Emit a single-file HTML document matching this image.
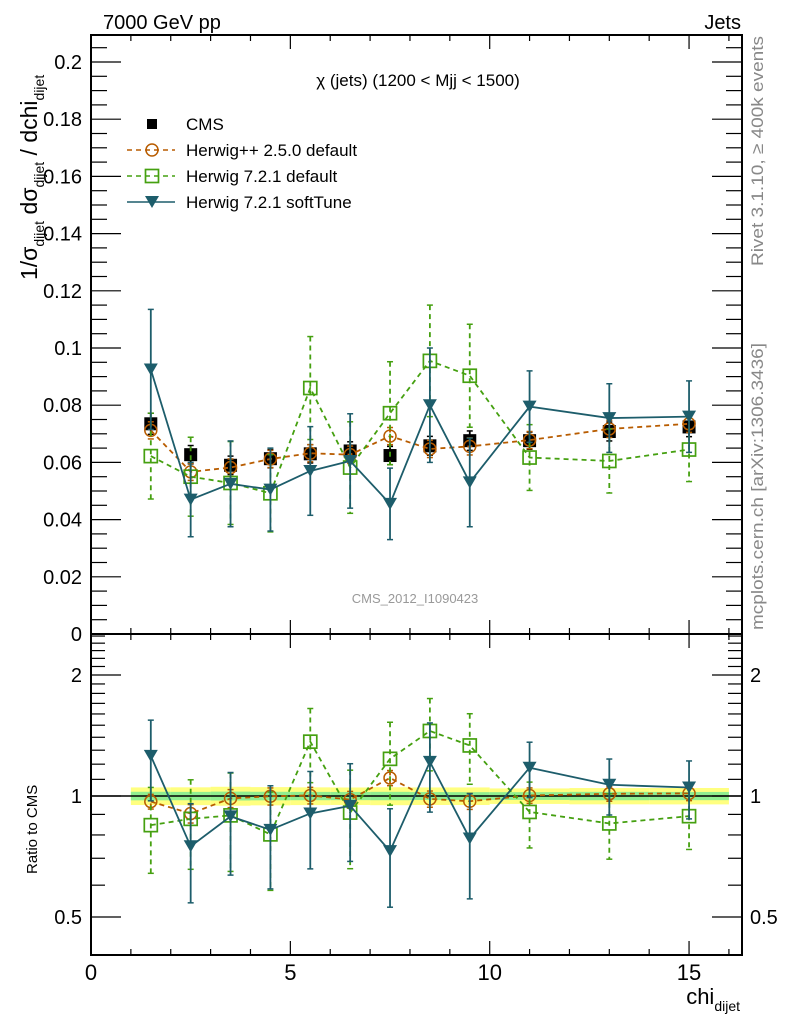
<!DOCTYPE html>
<html><head><meta charset="utf-8">
<style>
html,body{margin:0;padding:0;background:#fff;}
svg{display:block;font-family:"Liberation Sans",sans-serif;}
</style></head>
<body>
<svg id="chart" width="786" height="1024" viewBox="0 0 786 1024" xmlns="http://www.w3.org/2000/svg">
<g id="ratio-band"></g>
<g id="marks"></g>
<g id="axes"></g>
<text x="103" y="29" font-size="20">7000 GeV pp</text>
<text x="741" y="29" font-size="20" text-anchor="end">Jets</text>
<text x="418" y="86" font-size="17" text-anchor="middle">χ (jets) (1200 &lt; Mjj &lt; 1500)</text>
<text x="415" y="603" font-size="13" fill="#999" text-anchor="middle">CMS_2012_I1090423</text>
<text transform="translate(763,266) rotate(-90)" font-size="17" fill="#888" textLength="230" lengthAdjust="spacingAndGlyphs">Rivet 3.1.10, ≥ 400k events</text>
<text transform="translate(763,630) rotate(-90)" font-size="17" fill="#888" textLength="287" lengthAdjust="spacingAndGlyphs">mcplots.cern.ch [arXiv:1306.3436]</text>
<text transform="translate(37,280) rotate(-90)" font-size="23">1/σ<tspan font-size="14" dy="7">dijet</tspan><tspan dy="-7"> dσ</tspan><tspan font-size="14" dy="7">dijet</tspan><tspan dy="-7"> / dchi</tspan><tspan font-size="14" dy="7">dijet</tspan></text>
<text transform="translate(37,874) rotate(-90)" font-size="15">Ratio to CMS</text>
<text x="740" y="1004" font-size="22" text-anchor="end"><tspan>chi</tspan><tspan font-size="14" dy="7">dijet</tspan></text>
<g id="legend"></g>
</svg>
<script>
const binCenters=[1.5,2.5,3.5,4.5,5.5,6.5,7.5,8.5,9.5,11,13,15];
const binLow=[1,2,3,4,5,6,7,8,9,10,12,14];
const binHigh=[2,3,4,5,6,7,8,9,10,12,14,16];
const cmsVals=[0.0735,0.0627,0.0590,0.0613,0.0630,0.0640,0.0624,0.0658,0.0676,0.0676,0.0708,0.0724];
const cmsErr=[0.0037,0.0032,0.0032,0.0032,0.0032,0.0032,0.0032,0.0033,0.0034,0.003,0.0033,0.0034];
const cmsStatErr=[0.0018,0.0015,0.0015,0.0015,0.0015,0.0015,0.0015,0.0015,0.0015,0.0015,0.0017,0.0017];
const hppVals=[0.0712,0.0567,0.0582,0.0612,0.0632,0.0627,0.0692,0.0647,0.0656,0.0678,0.0717,0.0735];
const hppErr=[0.003,0.003,0.003,0.003,0.003,0.003,0.003,0.003,0.003,0.003,0.003,0.003];
const h721Vals=[0.0622,0.0550,0.0528,0.0492,0.0860,0.0582,0.0772,0.0955,0.0903,0.0617,0.0605,0.0645];
const h721Err=[0.015,0.0138,0.0145,0.0135,0.018,0.016,0.018,0.0195,0.018,0.0115,0.0112,0.0112];
const softVals=[0.0925,0.0470,0.0525,0.0505,0.0570,0.0605,0.0455,0.0800,0.0530,0.0795,0.0755,0.0760];
const softErr=[0.021,0.013,0.015,0.0145,0.0155,0.0165,0.0125,0.020,0.0155,0.0125,0.012,0.0125];

const NS="http://www.w3.org/2000/svg";
const L=91,R=742,T=35,MB=634,RB=955;
const X=v=>L+v*39.87;
const Y=v=>MB-v*2860;
const YR=r=>796-121*Math.log2(r);
function el(tag,attrs,parent){const e=document.createElementNS(NS,tag);for(const k in attrs)e.setAttribute(k,attrs[k]);parent.appendChild(e);return e;}
const axes=document.getElementById('axes'),marks=document.getElementById('marks'),band=document.getElementById('ratio-band'),legend=document.getElementById('legend');

binCenters.forEach((c,i)=>{
  const y1=YR(1+cmsErr[i]/cmsVals[i]),y2=YR(1-cmsErr[i]/cmsVals[i]);
  const b=el('rect',{x:X(binLow[i]),y:y1,width:X(binHigh[i])-X(binLow[i]),height:y2-y1,fill:'#ffff80'},band);
  
  
  const s1=YR(1+cmsStatErr[i]/cmsVals[i]),s2=YR(1-cmsStatErr[i]/cmsVals[i]);
  const g=el('rect',{x:X(binLow[i]),y:s1,width:X(binHigh[i])-X(binLow[i]),height:s2-s1,fill:'#90ee90'},band);
  
  
});
const one=el('line',{x1:L,x2:R,y1:YR(1),y2:YR(1),stroke:'#000','stroke-width':1.5},band);



[[T,MB],[MB,RB]].forEach(([t,b])=>{
  const f=el('rect',{x:L,y:t,width:R-L,height:b-t,fill:'none',stroke:'#000','stroke-width':2},axes);
  
  
});
for(let v=0;v<=16;v++){
  const len=(v%5===0)?14:6,x=X(v);
  [[MB,-1],[T,1],[RB,-1],[MB,1]].forEach(([y,d])=>el('line',{x1:x,x2:x,y1:y,y2:y+d*len,stroke:'#000','stroke-width':1.2},axes));
  if(v%5===0){const t=el('text',{x:x,y:980,'font-size':22,'text-anchor':'middle'},axes);t.textContent=v;
    
    }
}
const yTickLabels=['0','0.02','0.04','0.06','0.08','0.1','0.12','0.14','0.16','0.18','0.2'];
for(let k=0;k<=41;k++){
  const v=k*0.005,y=Y(v);if(y<T)break;
  const len=k%4===0?30:16;
  el('line',{x1:L,x2:L+len,y1:y,y2:y,stroke:'#000','stroke-width':1.2},axes);
  el('line',{x1:R,x2:R-len,y1:y,y2:y,stroke:'#000','stroke-width':1.2},axes);
}
yTickLabels.forEach((s,i)=>{const t=el('text',{x:82,y:Y(i*0.02)+7,'font-size':20,'text-anchor':'end'},axes);t.textContent=s;
  
  });
const rMinor=[0.4,0.6,0.7,0.8,0.9,1.1,1.2,1.3,1.4,1.5,1.6,1.7,1.8,1.9,2.1,2.2,2.3,2.4,2.5];
rMinor.forEach(r=>{const y=YR(r);if(y<MB||y>RB)return;
  el('line',{x1:L,x2:L+14,y1:y,y2:y,stroke:'#000','stroke-width':1.2},axes);
  el('line',{x1:R,x2:R-14,y1:y,y2:y,stroke:'#000','stroke-width':1.2},axes);});
const rMajor=[0.5,1,2];const rLabels=['0.5','1','2'];
rMajor.forEach((r,i)=>{const y=YR(r);
  el('line',{x1:L,x2:L+30,y1:y,y2:y,stroke:'#000','stroke-width':1.2},axes);
  el('line',{x1:R,x2:R-30,y1:y,y2:y,stroke:'#000','stroke-width':1.2},axes);
  const t=el('text',{x:82,y:y+7,'font-size':20,'text-anchor':'end'},axes);t.textContent=rLabels[i];
  
  
  const t2=el('text',{x:750,y:y+7,'font-size':20},axes);t2.textContent=rLabels[i];
  
  });

function marker(type,x,y,color,parent){
  let m;
  if(type==='circle')m=el('circle',{cx:x,cy:y,r:6,fill:'none',stroke:color,'stroke-width':1.5},parent);
  else if(type==='square')m=el('rect',{x:x-6.5,y:y-6.5,width:13,height:13,fill:'none',stroke:color,'stroke-width':1.7},parent);
  else if(type==='tri')m=el('path',{d:`M${x-7},${y-6}L${x+7},${y-6}L${x},${y+6}Z`,fill:color},parent);
  else m=el('rect',{x:x-6.5,y:y-6.5,width:13,height:13,fill:color},parent);
  return m;
}
function series(name,vals,errs,color,type,dash,yf,ratio){
  const g=el('g',{},marks);
  
  
  const val=i=>ratio?vals[i]/cmsVals[i]:vals[i];
  const er=i=>ratio?errs[i]/cmsVals[i]:errs[i];
  const clip=y=>Math.max(ratio?MB:T,Math.min(ratio?RB:MB,y));
  if(type!=='cmsbox'){
    const pts=binCenters.map((c,i)=>X(c)+','+yf(val(i))).join(' ');
    el('polyline',{points:pts,fill:'none',stroke:color,'stroke-width':1.8,'stroke-dasharray':dash||'none'},g);
  }
  binCenters.forEach((c,i)=>{
    const x=X(c),y1=clip(yf(val(i)+er(i))),y2=clip(yf(Math.max(val(i)-er(i),0.01)));
    el('line',{x1:x,x2:x,y1:y1,y2:y2,stroke:color,'stroke-width':1.8,'stroke-dasharray':dash||'none'},g);
    el('line',{x1:x-3,x2:x+3,y1:y1,y2:y1,stroke:color,'stroke-width':1.5},g);
    el('line',{x1:x-3,x2:x+3,y1:y2,y2:y2,stroke:color,'stroke-width':1.5},g);
    const m=marker(type,x,yf(val(i)),color,g);
    
    
  });
}
const cOr='#b85c00',cGr='#45a010',cTe='#1d5d6b';
series('cms-data',cmsVals,cmsErr,'#000','cmsbox',null,Y,false);
series('herwigpp-250',hppVals,hppErr,cOr,'circle','5,4',Y,false);
series('herwig-721-default',h721Vals,h721Err,cGr,'square','5,4',Y,false);
series('herwig-721-softtune',softVals,softErr,cTe,'tri',null,Y,false);
series('ratio-herwigpp-250',hppVals,hppErr,cOr,'circle','5,4',YR,true);
series('ratio-herwig-721-default',h721Vals,h721Err,cGr,'square','5,4',YR,true);
series('ratio-herwig-721-softtune',softVals,softErr,cTe,'tri',null,YR,true);

const legNames=['CMS','Herwig++ 2.5.0 default','Herwig 7.2.1 default','Herwig 7.2.1 softTune'];
const legTypes=['cmsbox','circle','square','tri'];
const legColors=['#000',cOr,cGr,cTe];
const legDash=[null,'5,4','5,4',null];
legNames.forEach((n,i)=>{
  const y=124+i*26;
  const g=el('g',{},legend);
  
  
  if(i>0)el('line',{x1:127,x2:175,y1:y,y2:y,stroke:legColors[i],'stroke-width':1.5,'stroke-dasharray':legDash[i]||'none'},g);
  marker(legTypes[i],152,y,legColors[i],g);
  if(i===0){g.lastChild.setAttribute('width',10);g.lastChild.setAttribute('height',10);g.lastChild.setAttribute('x',147);g.lastChild.setAttribute('y',y-5);}
  const t=el('text',{x:186,y:y+6,'font-size':17},g);t.textContent=n;
});
</script>
</body></html>
